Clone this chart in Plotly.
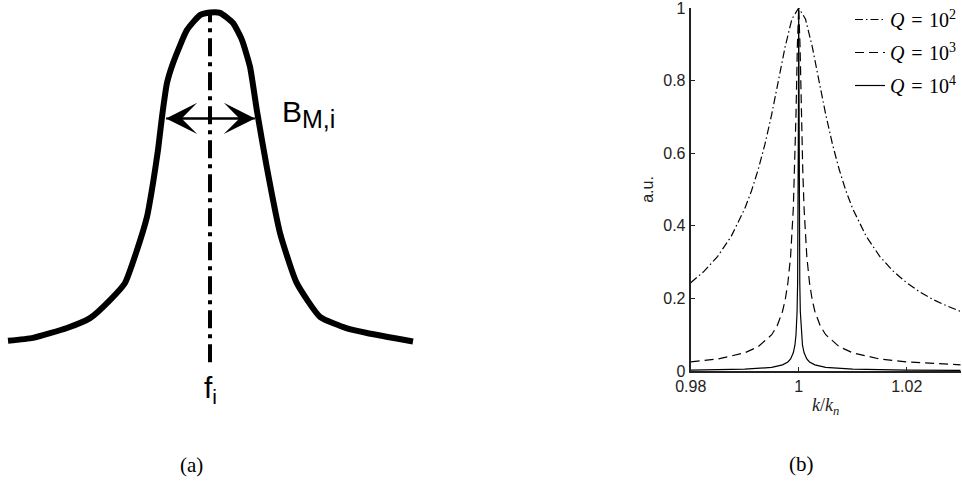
import plotly.graph_objects as go

# ---------------- data: panel (a) schematic resonance ----------------
a_freq = [-2.02, -1.77, -1.43, -1.20, -1.00, -0.85, -0.73, -0.63, -0.57, -0.52, -0.48,
          -0.43, -0.37, -0.23, -0.10, 0.00, 0.10, 0.23, 0.32, 0.40, 0.47, 0.567,
          0.70, 0.867, 1.10, 1.37, 1.57, 2.03]
a_amp = [0.002, 0.011, 0.041, 0.071, 0.126, 0.178, 0.278, 0.379, 0.481, 0.582, 0.683,
         0.786, 0.846, 0.947, 0.992, 1.000, 0.999, 0.968, 0.916, 0.835, 0.700, 0.531,
         0.330, 0.178, 0.075, 0.040, 0.026, 0.000]
a_center = [0.0, 0.0]
a_center_span = [-0.063, 0.999]
a_band = [-0.44, 0.45]
a_band_level = 0.678

# ---------------- data: panel (b) resonance curves ----------------
x_q2 = [0.98, 0.9825, 0.985, 0.9875, 0.99, 0.99125, 0.9925, 0.99375, 0.995, 0.99625,
        0.9975, 0.99875, 1.0, 1.00125, 1.0025, 1.00375, 1.005, 1.00625, 1.0075, 1.00875,
        1.01, 1.0125, 1.015, 1.0175, 1.02, 1.0225, 1.025, 1.0275, 1.03]
y_q2 = [0.243, 0.275, 0.316, 0.371, 0.447, 0.496, 0.555, 0.625, 0.707, 0.800,
        0.894, 0.970, 1.0, 0.970, 0.894, 0.800, 0.707, 0.625, 0.555, 0.496,
        0.447, 0.371, 0.316, 0.275, 0.243, 0.217, 0.196, 0.179, 0.164]

x_q3 = [0.98, 0.985, 0.99, 0.9925, 0.995, 0.996, 0.997, 0.9975, 0.998, 0.9985, 0.999,
        0.99925, 0.9995, 0.99975, 1.0, 1.00025, 1.0005, 1.00075, 1.001, 1.0015, 1.002,
        1.0025, 1.003, 1.004, 1.005, 1.0075, 1.01, 1.015, 1.02, 1.025, 1.03]
y_q3 = [0.025, 0.033, 0.050, 0.067, 0.100, 0.124, 0.164, 0.196, 0.243, 0.316, 0.447,
        0.555, 0.707, 0.894, 1.0, 0.894, 0.707, 0.555, 0.447, 0.316, 0.243,
        0.196, 0.164, 0.124, 0.100, 0.067, 0.050, 0.033, 0.025, 0.020, 0.017]

x_q4 = [0.98, 0.99, 0.995, 0.997, 0.998, 0.9985, 0.999, 0.9993, 0.9995, 0.9997, 0.9998,
        0.9999, 0.99995, 1.0, 1.00005, 1.0001, 1.0002, 1.0003, 1.0005, 1.0007, 1.001,
        1.0015, 1.002, 1.003, 1.005, 1.01, 1.02, 1.03]
y_q4 = [0.0025, 0.005, 0.010, 0.017, 0.025, 0.033, 0.050, 0.071, 0.100, 0.164, 0.243,
        0.447, 0.707, 1.0, 0.707, 0.447, 0.243, 0.164, 0.100, 0.071, 0.050,
        0.033, 0.025, 0.017, 0.010, 0.005, 0.0025, 0.0017]

series_names = ["<i>Q</i>\u2004=\u200410<sup>2</sup>",
                "<i>Q</i>\u2004=\u200410<sup>3</sup>",
                "<i>Q</i>\u2004=\u200410<sup>4</sup>"]
y_ticks = [0, 0.2, 0.4, 0.6, 0.8, 1]
y_tick_text = ["0", "0.2", "0.4", "0.6", "0.8", "1"]
x_ticks = [0.98, 1.0, 1.02]
x_tick_text = ["0.98", "1", "1.02"]

W, H = 962, 484
fig = go.Figure()

# ---- panel (a)
fig.add_trace(go.Scatter(x=a_freq, y=a_amp, mode="lines", xaxis="x2", yaxis="y2",
                         line=dict(color="black", width=6, shape="spline", smoothing=0.5),
                         showlegend=False, hoverinfo="skip"))
fig.add_trace(go.Scatter(x=a_center, y=a_center_span, mode="lines", xaxis="x2", yaxis="y2",
                         line=dict(color="black", width=4, dash="18px,6px,4px,6px"),
                         showlegend=False, hoverinfo="skip"))
fig.add_trace(go.Scatter(x=a_band, y=[a_band_level, a_band_level], mode="lines", xaxis="x2", yaxis="y2",
                         line=dict(color="black", width=2),
                         showlegend=False, hoverinfo="skip"))

# ---- panel (b)
styles = [dict(dash="8px,3px,1.5px,3px"), dict(dash="9px,5px"), dict(dash="solid")]
for i, (xs, ys) in enumerate([(x_q2, y_q2), (x_q3, y_q3), (x_q4, y_q4)]):
    fig.add_trace(go.Scatter(x=xs, y=ys, mode="lines", name=series_names[i],
                             legendgroup=f"g{i}",
                             line=dict(color="black", width=1.2, **styles[i]),
                             hoverinfo="skip"))

axis_font = dict(family="Arial, Liberation Sans, sans-serif", size=16, color="#222")

fig.update_layout(
    width=W, height=H,
    margin=dict(l=0, r=0, t=0, b=0, autoexpand=False),
    paper_bgcolor="white", plot_bgcolor="white",
    showlegend=True,
    legend=dict(x=0.8836, y=1.0, xanchor="left", yanchor="top",
                bgcolor="rgba(0,0,0,0)", borderwidth=0,
                font=dict(family="Liberation Serif, serif", size=20, color="black"),
                traceorder="grouped", tracegroupgap=4, itemwidth=30),
    xaxis=dict(domain=[690.7 / W, 960.7 / W], range=[0.98, 1.03], anchor="y",
               showline=True, linecolor="#222", linewidth=2, mirror=False,
               ticks="inside", ticklen=4, tickcolor="#222", tickwidth=1,
               tickvals=x_ticks, ticktext=x_tick_text, tickfont=axis_font,
               ticklabeloverflow="allow",
               showgrid=False, zeroline=False,
               title=dict(text="<i>k</i>/<i>k<sub>n</sub></i>", standoff=4,
                          font=dict(family="Liberation Serif, serif", size=18, color="#222"))),
    yaxis=dict(domain=[(H - 371) / H, (H - 8) / H], range=[0, 1], anchor="x",
               showline=True, linecolor="#222", linewidth=2,
               ticks="inside", ticklen=4, tickcolor="#222", tickwidth=1,
               tickvals=y_ticks, ticktext=y_tick_text, tickfont=axis_font,
               ticklabeloverflow="allow",
               showgrid=False, zeroline=False,
               title=dict(text="a.u.", standoff=6,
                          font=dict(family="Arial, Liberation Sans, sans-serif", size=16, color="#222"))),
    xaxis2=dict(domain=[0, 420 / W], range=[-2.1, 2.1], anchor="y2", visible=False),
    yaxis2=dict(domain=[(H - 420) / H, 1.0], range=[(341.5 - 420) / 329, 341.5 / 329],
                anchor="x2", visible=False),
)

# arrow heads for the bandwidth marker
for tip in a_band:
    fig.add_annotation(x=tip, y=a_band_level, ax=0.0, ay=a_band_level,
                       xref="x2", yref="y2", axref="x2", ayref="y2",
                       showarrow=True, arrowhead=3, arrowsize=2.6, arrowwidth=2,
                       arrowcolor="black", standoff=0, text="")

fig.add_annotation(x=0.70, y=0.69, xref="x2", yref="y2", xanchor="left", yanchor="middle",
                   text="B<sub><span style='font-size:25px'>M,i</span></sub>", showarrow=False,
                   font=dict(family="Arial, Liberation Sans, sans-serif", size=30, color="black"))
fig.add_annotation(x=0.0, y=-0.145, xref="x2", yref="y2", xanchor="center", yanchor="middle",
                   text="f<sub>i</sub>", showarrow=False,
                   font=dict(family="Arial, Liberation Sans, sans-serif", size=30, color="black"))

fig.add_annotation(x=191 / W, y=(H - 465) / H, xref="paper", yref="paper",
                   text="(a)", showarrow=False, xanchor="center", yanchor="middle",
                   font=dict(family="Liberation Serif, serif", size=21, color="black"))
fig.add_annotation(x=801 / W, y=(H - 464) / H, xref="paper", yref="paper",
                   text="(b)", showarrow=False, xanchor="center", yanchor="middle",
                   font=dict(family="Liberation Serif, serif", size=21, color="black"))

fig.write_html("out.html", config={"displayModeBar": False},
               post_script="document.body.style.margin='0';")
